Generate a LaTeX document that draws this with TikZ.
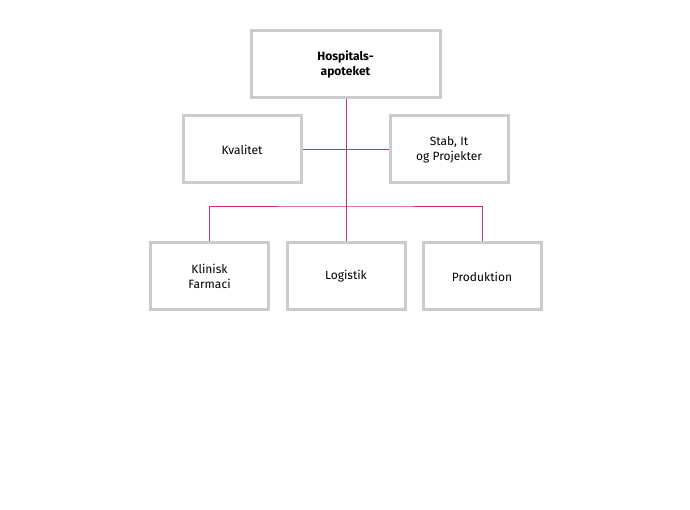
\documentclass[tikz,border=0pt]{standalone}
\usepackage{fontspec}
\setmainfont{Fira Sans}
\definecolor{boxgray}{HTML}{CCCCCC}
\definecolor{linkred}{HTML}{C8336A}
\begin{document}
\begin{tikzpicture}[x=1pt,y=-1pt,
  box/.style={draw=boxgray,line width=3pt,minimum height=67pt,align=center,font=\fontsize{12}{15}\selectfont,inner sep=0pt},
  link/.style={draw=linkred,line width=0.9pt}]
\useasboundingbox (0,0) rectangle (690,510);
\node[box,minimum width=189pt,font=\fontsize{12}{15}\selectfont\bfseries] (top) at (345.5,64.5) {Hospitals-\\apoteket};
\node[box,minimum width=118pt] (kval) at (242,149.5) {Kvalitet};
\node[box,minimum width=118pt] (stab) at (449,149.5) {Stab, It\\og Projekter};
\node[box,minimum width=118pt] (klin) at (209.5,276.5) {Klinisk\\Farmaci};
\node[box,minimum width=118pt] (log) at (346,276.5) {Logistik};
\node[box,minimum width=118pt] (prod) at (482,276.5) {Produktion};
\coordinate (j1) at (346,150);
\coordinate (j2) at (346,206);
\draw[link] (top.south -| j1) -- (log.north);
\draw[link] (kval.east) -- (stab.west);
\draw[link] (klin.north) |- (j2) -| (prod.north);
\end{tikzpicture}
\end{document}
